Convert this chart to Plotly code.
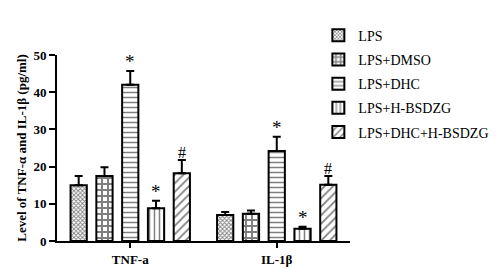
import plotly.graph_objects as go

categories = ["TNF-a", "IL-1β"]
groups = ["LPS", "LPS+DMSO", "LPS+DHC", "LPS+H-BSDZG", "LPS+DHC+H-BSDZG"]
values = {
    "LPS": [15.0, 7.0],
    "LPS+DMSO": [17.5, 7.3],
    "LPS+DHC": [42.0, 24.2],
    "LPS+H-BSDZG": [8.8, 3.3],
    "LPS+DHC+H-BSDZG": [18.2, 15.1],
}
errors = {
    "LPS": [2.5, 0.8],
    "LPS+DMSO": [2.3, 0.9],
    "LPS+DHC": [3.7, 3.8],
    "LPS+H-BSDZG": [2.0, 0.5],
    "LPS+DHC+H-BSDZG": [3.6, 2.4],
}
marks = {
    "LPS": ["", ""],
    "LPS+DMSO": ["", ""],
    "LPS+DHC": ["*", "*"],
    "LPS+H-BSDZG": ["*", "*"],
    "LPS+DHC+H-BSDZG": ["#", "#"],
}
patterns = {
    "LPS": dict(shape="x", size=3, solidity=0.5),
    "LPS+DMSO": dict(shape="+", size=6, solidity=0.55),
    "LPS+DHC": dict(shape="-", size=5, solidity=0.3),
    "LPS+H-BSDZG": dict(shape="|", size=5, solidity=0.3),
    "LPS+DHC+H-BSDZG": dict(shape="/", size=6, solidity=0.3),
}

FONT = "Liberation Serif, Times New Roman, serif"
bargap = 0.12
bargroupgap = 0.37

fig = go.Figure()
for g in groups:
    fig.add_trace(go.Bar(
        name=g, x=categories, y=values[g],
        marker=dict(color="white", line=dict(color="black", width=2),
                    pattern=dict(fgcolor="black", bgcolor="white", **patterns[g])),
        error_y=dict(type="data", array=errors[g], arrayminus=[0, 0],
                     color="black", thickness=2, width=4),
        legendgroup=g,
    ))

slot = (1 - bargap) / len(groups)
annotations = []
for gi, g in enumerate(groups):
    for ci, c in enumerate(categories):
        t = marks[g][ci]
        if t:
            annotations.append(dict(
                x=ci + (gi - (len(groups) - 1) / 2) * slot, xref="x",
                y=values[g][ci] + errors[g][ci], yref="y",
                text=t, showarrow=False, yanchor="bottom", yshift=-3,
                font=dict(family=FONT, size=19 if t == "*" else 16, color="black")))

fig.update_layout(
    barmode="group", bargap=bargap, bargroupgap=bargroupgap,
    width=498, height=271,
    margin=dict(l=43, r=148, t=38, b=30),
    plot_bgcolor="white", paper_bgcolor="white",
    font=dict(family=FONT, color="black"),
    showlegend=True,
    legend=dict(x=0.892, y=1.19, xanchor="left", yanchor="top",
                font=dict(family=FONT, size=14, color="black"),
                traceorder="grouped", tracegroupgap=3,
                itemwidth=30, bgcolor="rgba(0,0,0,0)"),
    annotations=annotations,
)
fig.update_xaxes(
    showline=True, linecolor="black", linewidth=2,
    ticks="outside", ticklen=5, tickwidth=2, tickcolor="black",
    tickfont=dict(family=FONT, size=13, color="black", weight="bold"),
    range=[-0.5, 1.5],
)
fig.update_yaxes(
    range=[0, 50], dtick=10, showgrid=False, zeroline=False,
    showline=True, linecolor="black", linewidth=2,
    ticks="outside", ticklen=6, tickwidth=2, tickcolor="black",
    tickfont=dict(family=FONT, size=13, color="black", weight="bold"),
    title=dict(text="Level of TNF-α and IL-1β (pg/ml)",
               font=dict(family=FONT, size=13, color="black", weight="bold"),
               standoff=4),
)

fig.write_html("out.html")
